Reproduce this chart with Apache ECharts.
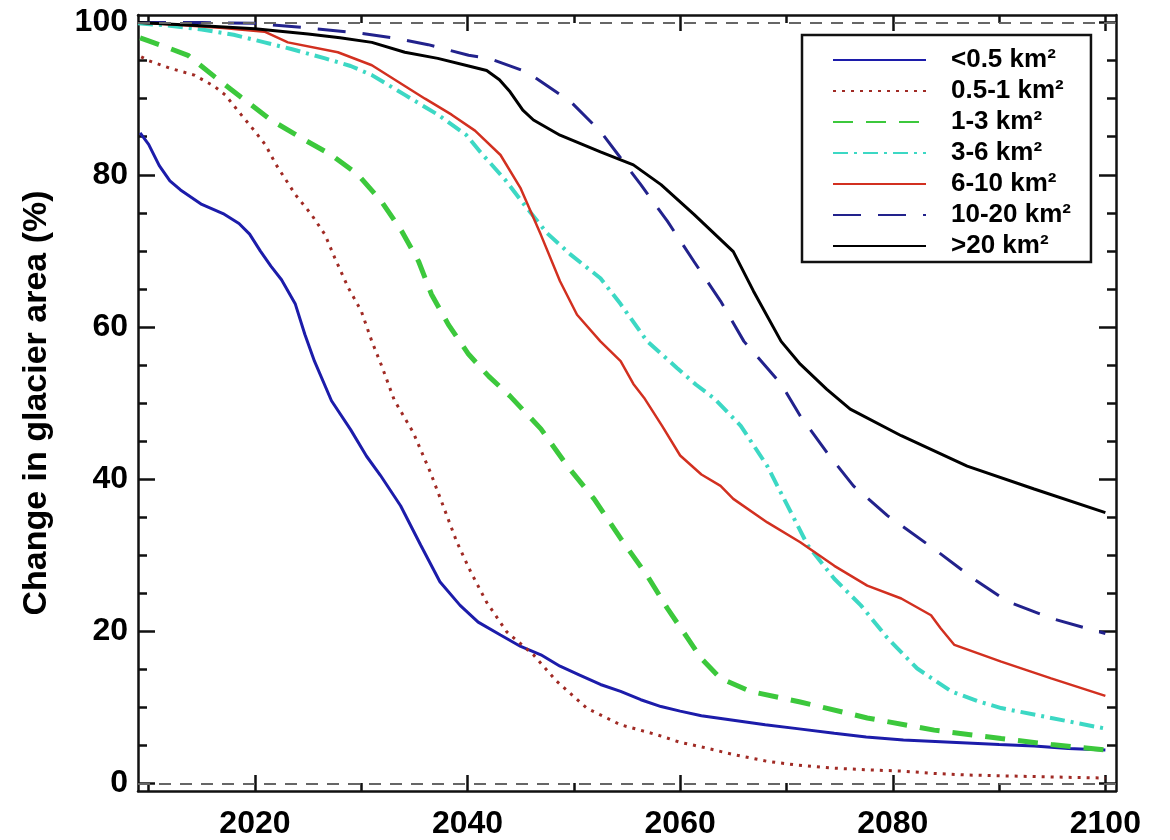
<!DOCTYPE html>
<html>
<head>
<meta charset="utf-8">
<script src="https://cdn.jsdelivr.net/npm/echarts@6/dist/echarts.min.js"></script>
<style>
html,body{margin:0;padding:0;background:#fff;}
#chart{width:1170px;height:840px;}
</style>
</head>
<body>
<div id="chart"></div>
<script>
// ---- Data ----
const seriesNames = ['<0.5 km²', '0.5-1 km²', '1-3 km²', '3-6 km²', '6-10 km²', '10-20 km²', '>20 km²'];

const sLt05 = [[2009.2,85.5],[2010,84],[2011,81.2],[2012,79.2],[2013,78],[2015,76.1],[2017,74.9],[2018.5,73.6],[2019.5,72.2],[2020.5,70],[2021.5,68],[2022.5,66.2],[2023.8,63],[2024.7,59],[2025.6,55.5],[2027.2,50.3],[2029,46.5],[2030.5,43],[2031.8,40.5],[2033.7,36.5],[2035.6,31.3],[2037.4,26.5],[2039.3,23.4],[2041,21.2],[2043.1,19.5],[2045,18],[2046.9,16.9],[2048.7,15.4],[2050.6,14.2],[2052.5,13],[2054.4,12.1],[2056.3,11],[2058.2,10.1],[2060,9.5],[2062,8.9],[2065,8.3],[2068,7.7],[2071,7.2],[2074.5,6.6],[2077.5,6.1],[2081,5.7],[2084,5.5],[2087,5.3],[2090,5.1],[2093.3,4.9],[2096.5,4.6],[2100,4.4]];

const s05to1 = [[2009.3,95.5],[2010,95],[2012,94],[2014.3,93.1],[2016.2,91.6],[2017.2,90.5],[2018.7,87.9],[2020,85.7],[2021,83.9],[2022,81.3],[2023.8,77.4],[2025.3,74.8],[2026.6,72.1],[2027.5,69.1],[2028.8,65.1],[2030,62.1],[2031,58.1],[2032,54.6],[2033.1,50.4],[2034.9,46.1],[2036.5,40.9],[2037.7,36.5],[2039,31.7],[2040.3,27.8],[2041.8,23.8],[2043.7,19.9],[2046.2,16.9],[2048.4,13.4],[2051.2,9.9],[2054.4,7.7],[2057.8,6.4],[2060,5.4],[2062,4.8],[2065,3.8],[2068.2,2.9],[2071,2.4],[2074.5,2],[2077.5,1.8],[2081,1.6],[2084,1.3],[2087,1.1],[2090,1],[2093.3,0.9],[2096.5,0.8],[2100,0.7]];

const s1to3 = [[2009.2,98],[2010,97.6],[2012,96.6],[2013.7,95.7],[2016.2,92.9],[2018.7,90.2],[2021.5,87.2],[2024.4,84.8],[2027.2,82.6],[2029.7,80],[2031.9,76.5],[2033.8,72.6],[2035.4,68.6],[2036.6,64.3],[2038.2,60.3],[2040.1,56.4],[2042,53.5],[2044,50.9],[2046.9,46.6],[2049.4,41.7],[2051.9,37.4],[2054.4,32.2],[2056.9,27.3],[2058.8,23],[2060.7,19.1],[2062,16.4],[2063.8,13.8],[2066.6,12.1],[2071.3,10.7],[2077.6,8.6],[2083.9,7],[2090.2,5.9],[2094.9,5.1],[2100,4.4]];

const s3to6 = [[2009,99.9],[2012,99.6],[2015,99.1],[2018,98.4],[2020.9,97.4],[2023.5,96.5],[2026.6,95.3],[2029,94.3],[2031,93.1],[2034.1,90.5],[2037.2,87.9],[2039.9,85.2],[2041.2,83],[2043.5,79.4],[2045.6,75.6],[2047.5,72.3],[2049.7,69.5],[2052.5,66.4],[2054.4,63],[2056.9,58.1],[2059.7,54.6],[2061.5,52.4],[2063.2,50.6],[2065.7,47],[2068.2,41.7],[2070.1,36.5],[2072,31.3],[2074.5,26.9],[2077,23.4],[2079.5,19.1],[2082.3,15.1],[2085.5,12.1],[2088,10.8],[2090.2,9.9],[2094.9,8.6],[2100,7.2]];

const s6to10 = [[2009,100],[2013,99.7],[2017,99.3],[2020.9,98.8],[2023.1,97.4],[2027.8,96.1],[2031,94.4],[2033.5,92.2],[2036,90],[2038.5,87.9],[2040.7,85.8],[2043.1,82.6],[2045,78.2],[2046.9,72.1],[2048.7,66],[2050.3,61.6],[2052.5,58.1],[2054.4,55.5],[2055.6,52.5],[2056.6,50.7],[2058.3,47],[2060,43.1],[2062,40.6],[2063.8,39.1],[2065,37.4],[2068.2,34.3],[2071.3,31.7],[2074.5,28.6],[2077.6,26],[2080.8,24.3],[2083.6,22.1],[2084.5,20.4],[2085.8,18.2],[2090.2,16],[2094.9,13.8],[2100,11.5]];

const s10to20 = [[2009,100],[2015,100],[2020,99.9],[2025,99.3],[2030,98.6],[2033,98],[2036.3,97.1],[2040.1,95.7],[2042,95.3],[2045.6,93.5],[2049.7,89.6],[2052.5,85.7],[2054.4,82.2],[2056.3,78.7],[2058.8,73.9],[2061.3,68.6],[2063.8,63.4],[2066,58.1],[2069.5,52.5],[2071.3,48.3],[2073.8,43.5],[2076.3,39.1],[2079.5,35.2],[2083.9,30.8],[2087.6,26.9],[2090.8,23.9],[2094.9,21.7],[2100,19.7]];

const sGt20 = [[2009,100],[2015,99.6],[2020,99.2],[2025,98.5],[2028,98],[2031,97.4],[2034.1,96.1],[2037.2,95.3],[2040.1,94.3],[2041.8,93.7],[2043,92.5],[2044,90.9],[2045.2,88.5],[2046.2,87.2],[2048.7,85.2],[2052.5,83],[2055.6,81.3],[2058.2,78.7],[2061.3,74.8],[2065,69.9],[2066.9,64.7],[2069.5,58.1],[2071.3,55.1],[2073.8,51.8],[2076,49.2],[2080.8,45.7],[2087,41.7],[2093.3,38.7],[2100,35.6]];

// Tick / label values
const xLabels = [2020, 2040, 2060, 2080, 2100];
const xMinorTicks = [2010, 2030, 2050, 2070, 2090];
const yLabels = [0, 20, 40, 60, 80, 100];
const yMinorTicks = [5, 10, 15, 25, 30, 35, 45, 50, 55, 65, 70, 75, 85, 90, 95];
const refLines = [0, 100];

// ---- Chart ----
const FONT = '"Liberation Sans", Arial, Helvetica, sans-serif';
const chart = echarts.init(document.getElementById('chart'), null, {renderer: 'canvas'});

function xAx(pos, ticks, len, labels, showLine) {
  return {
    type: 'value', position: pos, min: 2009, max: 2101,
    axisLine: {show: showLine, onZero: false, lineStyle: {color: '#111', width: 2.5}},
    axisTick: {show: true, inside: true, length: len, customValues: ticks, lineStyle: {color: '#111', width: 2.5}},
    axisLabel: labels ? {show: true, customValues: labels, formatter: v => String(v), fontSize: 32, fontWeight: 'bold', color: '#000', fontFamily: FONT, margin: 17} : {show: false},
    splitLine: {show: false}
  };
}
function yAx(pos, ticks, len, labels, showLine, name) {
  const a = {
    type: 'value', position: pos, min: -1, max: 101,
    axisLine: {show: showLine, onZero: false, lineStyle: {color: '#111', width: 2.5}},
    axisTick: {show: true, inside: true, length: len, customValues: ticks, lineStyle: {color: '#111', width: 2.5}},
    axisLabel: labels ? {show: true, customValues: labels, formatter: v => String(v), fontSize: 32, fontWeight: 'bold', color: '#000', fontFamily: FONT, margin: 10} : {show: false},
    splitLine: {show: false}
  };
  if (name) {
    a.name = name; a.nameLocation = 'middle'; a.nameRotate = 90; a.nameGap = 84;
    a.nameTextStyle = {fontSize: 34, fontWeight: 'bold', color: '#000', fontFamily: FONT};
  }
  return a;
}

function lineSeries(name, data, color, width, type) {
  return {
    name: name, type: 'line', data: data, xAxisIndex: 0, yAxisIndex: 0,
    symbol: 'none', showSymbol: false, smooth: false, silent: true,
    lineStyle: {color: color, width: width, type: type, cap: 'butt'},
    itemStyle: {color: color}
  };
}

const option = {
  animation: false,
  backgroundColor: '#fff',
  grid: {left: 138, right: 54, top: 15, bottom: 47, containLabel: false},
  xAxis: [
    xAx('bottom', xLabels, 16, xLabels, true),
    xAx('bottom', xMinorTicks, 8, null, false),
    xAx('top', xLabels, 16, null, true),
    xAx('top', xMinorTicks, 8, null, false)
  ],
  yAxis: [
    yAx('left', yLabels, 17, yLabels, true, 'Change in glacier area (%)'),
    yAx('left', yMinorTicks, 9, null, false),
    yAx('right', yLabels, 17, null, true),
    yAx('right', yMinorTicks, 9, null, false)
  ],
  legend: {
    data: seriesNames,
    orient: 'vertical',
    left: 802, top: 35,
    backgroundColor: '#fff',
    borderColor: '#111', borderWidth: 2.5, borderRadius: 0,
    padding: [12, 20, 3, 30],
    itemWidth: 93, itemHeight: 14, itemGap: 5,
    selectedMode: false,
    itemStyle: {opacity: 0},
    textStyle: {fontSize: 26, fontWeight: 'bold', color: '#000', fontFamily: FONT, lineHeight: 24, height: 24, padding: [0, 0, 0, 20]}
  },
  series: [
    {
      name: 'ref', type: 'line', data: [], xAxisIndex: 0, yAxisIndex: 0, silent: true,
      markLine: {
        silent: true, symbol: 'none', label: {show: false},
        lineStyle: {color: '#666', width: 2, type: [12, 9]},
        data: refLines.map(v => ({yAxis: v}))
      }
    },
    lineSeries(seriesNames[0], sLt05, '#1c1caa', 3, 'solid'),
    lineSeries(seriesNames[1], s05to1, '#a02a24', 3, [3, 6]),
    lineSeries(seriesNames[2], s1to3, '#3cc83c', 5, [20, 13]),
    lineSeries(seriesNames[3], s3to6, '#3cd8c4', 4, [15, 6, 3, 6]),
    lineSeries(seriesNames[4], s6to10, '#d23020', 2.5, 'solid'),
    lineSeries(seriesNames[5], s10to20, '#22228c', 3, [28, 17]),
    lineSeries(seriesNames[6], sGt20, '#000000', 3, 'solid')
  ]
};
chart.setOption(option);
</script>
</body>
</html>
